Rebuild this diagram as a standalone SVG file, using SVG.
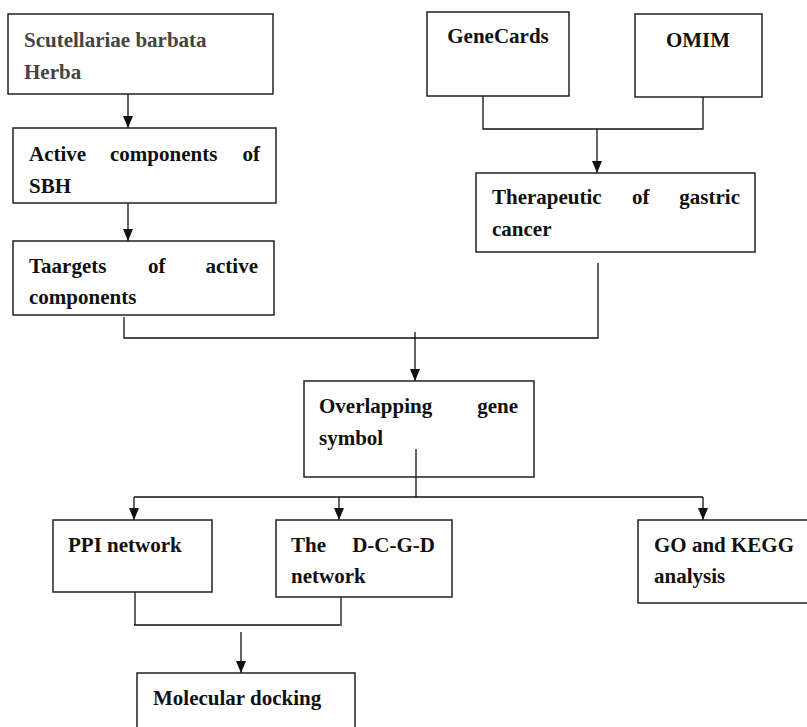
<svg xmlns="http://www.w3.org/2000/svg" width="807" height="727" viewBox="0 0 807 727">
<style>
text{font-family:'Liberation Serif','Times New Roman',serif !important;font-weight:bold;font-size:21px;fill:#111}
.g{fill:#444}
.box{fill:#fff;stroke:#222;stroke-width:1.5}
</style>
<defs>
<marker id="ah" viewBox="0 0 12 10" refX="12" refY="5" markerWidth="12" markerHeight="10" markerUnits="userSpaceOnUse" orient="auto">
<path d="M0,0 L12,5 L0,10 z" fill="#111"/>
</marker>
</defs>
<rect width="807" height="727" fill="#fff"/>
<g id="connectors" fill="none" stroke="#111" stroke-width="1.3">
<line x1="128" y1="94" x2="128" y2="128" marker-end="url(#ah)"/>
<line x1="128" y1="203" x2="128" y2="241" marker-end="url(#ah)"/>
<polyline points="483,96 483,129 703,129 703,97"/>
<line x1="597" y1="129" x2="597" y2="173" marker-end="url(#ah)"/>
<polyline points="124,317 124,338 598,338 598,263"/>
<line x1="415" y1="332" x2="415" y2="381" marker-end="url(#ah)"/>
<line x1="416" y1="449" x2="416" y2="497"/>
<line x1="134" y1="497" x2="703" y2="497"/>
<line x1="134" y1="497" x2="134" y2="520" marker-end="url(#ah)"/>
<line x1="339" y1="497" x2="339" y2="520" marker-end="url(#ah)"/>
<line x1="703" y1="497" x2="703" y2="520" marker-end="url(#ah)"/>
<line x1="135" y1="592" x2="135" y2="625"/>
<line x1="341" y1="596" x2="341" y2="626"/>
<line x1="134" y1="625" x2="340" y2="625"/>
<line x1="241" y1="632" x2="241" y2="673" marker-end="url(#ah)"/>
</g>
<g id="n1"><rect class="box" x="8" y="14" width="265" height="80"/>
<text class="g" x="24" y="47">Scutellariae barbata</text><text class="g" x="24" y="79">Herba</text></g>
<g id="n2"><rect class="box" x="13" y="128" width="263" height="75"/>
<text x="29" y="161">Active</text><text x="110" y="161">components</text><text x="260" y="161" text-anchor="end">of</text>
<text x="29" y="193">SBH</text></g>
<g id="n3"><rect class="box" x="13" y="241" width="261" height="74"/>
<text x="29" y="273">Taargets</text><text x="148" y="273">of</text><text x="258" y="273" text-anchor="end">active</text>
<text x="29" y="304">components</text></g>
<g id="n4"><rect class="box" x="427" y="12" width="142" height="84"/>
<text x="498" y="43" text-anchor="middle">GeneCards</text></g>
<g id="n5"><rect class="box" x="635" y="14" width="127" height="83"/>
<text x="698" y="47" text-anchor="middle">OMIM</text></g>
<g id="n6"><rect class="box" x="476" y="173" width="279" height="79"/>
<text x="492" y="204">Therapeutic</text><text x="632" y="204">of</text><text x="740" y="204" text-anchor="end">gastric</text>
<text x="492" y="236">cancer</text></g>
<g id="n7"><rect class="box" x="304" y="381" width="230" height="96"/>
<text x="319" y="413">Overlapping</text><text x="518" y="413" text-anchor="end">gene</text>
<text x="319" y="445">symbol</text></g>
<g id="n8"><rect class="box" x="53" y="520" width="159" height="72"/>
<text x="68" y="552">PPI network</text></g>
<g id="n9"><rect class="box" x="276" y="520" width="176" height="77"/>
<text x="291" y="552">The</text><text x="435" y="552" text-anchor="end">D-C-G-D</text>
<text x="291" y="583">network</text></g>
<g id="n10"><rect class="box" x="638" y="520" width="180" height="83"/>
<text x="654" y="552">GO and KEGG</text>
<text x="654" y="583">analysis</text></g>
<g id="n11"><rect class="box" x="137" y="673" width="218" height="70"/>
<text x="153" y="705">Molecular docking</text></g>
<line x1="416" y1="449" x2="416" y2="477" stroke="#111" stroke-width="1.3"/>
</svg>
